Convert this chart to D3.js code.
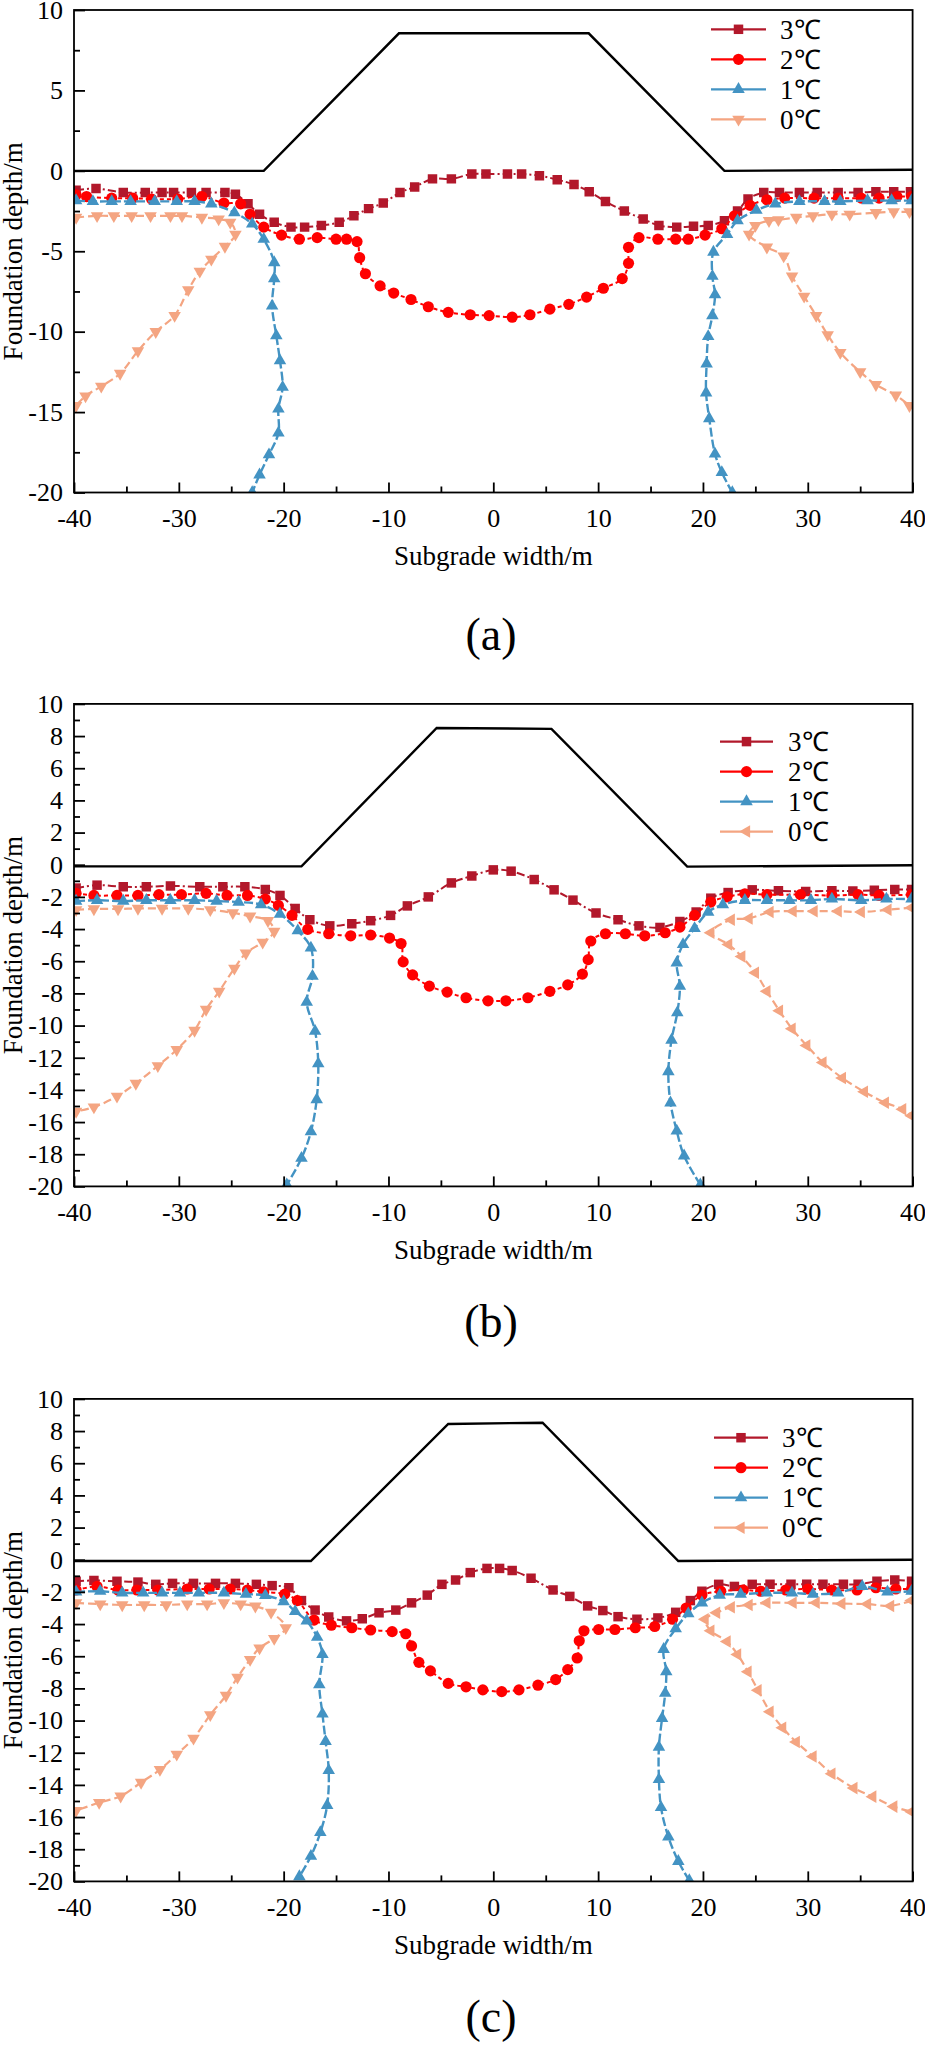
<!DOCTYPE html>
<html>
<head>
<meta charset="utf-8">
<script src="https://cdn.jsdelivr.net/npm/d3@7"></script>
<style>
  body { margin: 0; background: #fff; }
  svg { display: block; }
</style>
</head>
<body>
<div id="container"></div>
<script>
/* CONSTANTS AND DATA */
const width = 925, height = 2046
const FONT = "'Liberation Serif', 'Times New Roman', Tinos, serif"

const legendLabels = ["3℃", "2℃", "1℃", "0℃"]
const xMajor = [-40, -30, -20, -10, 0, 10, 20, 30, 40]
const xMinor = [-35, -25, -15, -5, 5, 15, 25, 35]
const yMajorA = [-20, -15, -10, -5, 0, 5, 10]
const yMinorA = [-17.5, -12.5, -7.5, -2.5, 2.5, 7.5]
const yMajorBC = [-20, -18, -16, -14, -12, -10, -8, -6, -4, -2, 0, 2, 4, 6, 8, 10]
const yMinorBC = [-19, -17, -15, -13, -11, -9, -7, -5, -3, -1, 1, 3, 5, 7, 9]

// embankment outline
const embA = [[-40, 0], [-21.9, 0], [-9.0, 8.55], [9.1, 8.55], [22.05, 0], [40, 0.07]]
const embB = [[-40, -0.1], [-18.3, -0.1], [-5.4, 8.5], [5.55, 8.45], [18.5, -0.12], [40, -0.03]]
const embC = [[-40, -0.08], [-17.4, -0.08], [-4.3, 8.44], [4.7, 8.52], [17.65, -0.08], [40, 0]]

// ---- panel (a)
const t3A = [[-39.8,-1.2],[-37.9,-1.1],[-35.3,-1.35],[-33.2,-1.35],[-31.6,-1.35],[-30.5,-1.35],[-28.8,-1.35],[-27.4,-1.35],[-25.6,-1.35],[-24.6,-1.45],[-23.4,-2.05],[-22.3,-2.7],[-20.9,-3.2],[-19.3,-3.5],[-18.0,-3.5],[-16.4,-3.4],[-14.7,-3.2],[-13.3,-2.8],[-11.9,-2.35],[-10.5,-2.0],[-8.9,-1.35],[-7.5,-1.0],[-5.8,-0.5],[-4.0,-0.5],[-2.05,-0.2],[-0.7,-0.2],[1.35,-0.2],[2.7,-0.2],[4.4,-0.3],[6.1,-0.55],[7.7,-0.85],[9.15,-1.3],[10.7,-1.9],[12.5,-2.5],[14.3,-3.0],[15.8,-3.4],[17.5,-3.5],[19.1,-3.45],[20.5,-3.4],[22.05,-3.1],[23.3,-2.5],[24.3,-1.75],[25.8,-1.35],[27.3,-1.35],[29.2,-1.35],[30.9,-1.35],[32.9,-1.35],[34.8,-1.35],[36.5,-1.3],[38.2,-1.3],[39.8,-1.3]]
const t2A = [[-39.8,-1.5],[-38.8,-1.6],[-36.4,-1.7],[-34.4,-1.7],[-32.6,-1.75],[-30.1,-1.75],[-27.8,-1.6],[-25.7,-2.0],[-24.1,-2.05],[-23.2,-2.7],[-21.9,-3.5],[-20.2,-4.0],[-18.5,-4.25],[-16.8,-4.15],[-15.0,-4.25],[-14.0,-4.25],[-13.0,-4.4],[-12.75,-5.4],[-12.2,-6.4],[-10.8,-7.15],[-9.5,-7.6],[-7.85,-8.0],[-6.2,-8.45],[-4.3,-8.8],[-2.2,-8.95],[-0.4,-9.0],[1.8,-9.1],[3.5,-8.95],[5.4,-8.6],[7.2,-8.3],[8.9,-7.85],[10.5,-7.3],[12.3,-6.7],[12.9,-5.75],[12.9,-4.75],[13.9,-4.15],[15.7,-4.25],[17.4,-4.25],[18.6,-4.25],[20.2,-4.0],[21.8,-3.6],[23.0,-2.8],[24.5,-2.15],[26.1,-1.8],[27.8,-1.7],[30.6,-1.7],[32.9,-1.7],[35.1,-1.7],[36.8,-1.7],[38.5,-1.6],[39.9,-1.6]]
const t1ALeft = [[-39.8,-1.85],[-38.2,-1.9],[-36.4,-1.9],[-34.6,-1.9],[-32.3,-1.9],[-30.2,-1.9],[-28.5,-1.9],[-26.9,-2.05],[-24.7,-2.6],[-23.0,-3.3],[-21.9,-4.25],[-20.9,-5.7],[-20.9,-6.7],[-21.1,-8.4],[-20.7,-10.25],[-20.35,-11.8],[-20.1,-13.45],[-20.5,-14.8],[-20.5,-16.3],[-21.4,-17.65],[-22.3,-18.9],[-23.0,-20.0]]
const t1ARight = [[22.8,-20],[21.8,-18.75],[21.15,-17.6],[20.6,-15.4],[20.3,-13.8],[20.35,-12.0],[20.5,-10.3],[20.9,-9.0],[21.15,-7.7],[20.9,-6.55],[21.0,-5.05],[22.3,-3.95],[23.3,-3.1],[25.1,-2.45],[26.9,-2.05],[29.2,-1.9],[31.6,-1.9],[33.1,-1.9],[35.7,-1.85],[38.0,-1.85],[39.9,-1.85]]
const t0ALeft = [[-39.8,-2.9],[-37.8,-2.8],[-36.2,-2.8],[-34.5,-2.8],[-32.7,-2.8],[-30.8,-2.8],[-29.7,-2.8],[-27.8,-2.9],[-26.2,-3.0],[-25.1,-3.2],[-24.6,-3.95],[-25.6,-4.7],[-26.9,-5.5],[-28.0,-6.25],[-29.1,-7.4],[-30.4,-9.0],[-32.2,-10.0],[-33.9,-11.2],[-35.6,-12.6],[-37.4,-13.4],[-38.9,-14.0],[-39.8,-14.6]]
const t0ARight = [[39.7,-2.55],[38.2,-2.55],[36.5,-2.6],[34.0,-2.7],[32.3,-2.7],[30.5,-2.8],[28.9,-2.9],[27.2,-3.05],[26.3,-3.1],[25.0,-3.4],[24.4,-3.95],[26.1,-4.75],[27.7,-5.3],[28.5,-6.55],[29.65,-7.8],[30.8,-9.0],[31.9,-10.2],[33.1,-11.3],[35.0,-12.5],[36.5,-13.3],[38.4,-13.95],[39.7,-14.6]]

// ---- panel (b)
const t3B = [[-39.8,-1.45],[-37.8,-1.27],[-35.3,-1.37],[-33.1,-1.37],[-30.8,-1.32],[-28.0,-1.37],[-25.8,-1.37],[-23.7,-1.37],[-21.75,-1.54],[-20.35,-1.91],[-18.9,-2.72],[-17.5,-3.42],[-15.6,-3.8],[-13.5,-3.67],[-11.7,-3.48],[-9.8,-3.15],[-8.2,-2.56],[-6.2,-2.0],[-4.0,-1.13],[-2.05,-0.7],[0.0,-0.32],[1.7,-0.4],[3.9,-0.92],[5.8,-1.56],[7.6,-2.2],[9.8,-3.0],[11.9,-3.42],[13.9,-3.8],[15.9,-3.9],[17.8,-3.53],[19.35,-2.94],[20.75,-2.08],[22.4,-1.73],[24.7,-1.56],[27.2,-1.62],[29.8,-1.67],[32.3,-1.62],[34.3,-1.64],[36.35,-1.59],[38.3,-1.54],[39.9,-1.54]]
const t2B = [[-39.8,-1.78],[-38.1,-1.91],[-35.9,-1.91],[-33.9,-1.91],[-31.9,-1.86],[-29.75,-1.86],[-27.4,-1.78],[-25.4,-1.91],[-23.45,-1.91],[-21.75,-2.13],[-20.5,-2.53],[-19.2,-3.15],[-17.7,-4.02],[-15.7,-4.29],[-13.6,-4.42],[-11.7,-4.37],[-9.9,-4.56],[-8.8,-4.9],[-8.6,-6.04],[-7.7,-6.85],[-6.1,-7.55],[-4.4,-7.92],[-2.6,-8.27],[-0.5,-8.46],[1.2,-8.46],[3.3,-8.27],[5.4,-7.87],[7.1,-7.47],[8.5,-6.8],[9.05,-5.9],[9.3,-4.74],[10.7,-4.29],[12.6,-4.29],[14.45,-4.42],[16.4,-4.23],[17.8,-3.88],[19.2,-3.15],[20.75,-2.32],[22.3,-2.0],[24.0,-1.81],[26.1,-1.86],[29.3,-1.86],[32.3,-1.91],[34.8,-1.86],[36.8,-1.91],[39.9,-1.86]]
const t1BLeft = [[-39.8,-2.26],[-37.8,-2.21],[-35.3,-2.26],[-33.1,-2.21],[-30.8,-2.21],[-28.5,-2.21],[-26.4,-2.26],[-24.3,-2.32],[-22.15,-2.48],[-20.35,-3.07],[-18.65,-4.1],[-17.4,-5.17],[-17.25,-6.93],[-17.8,-8.54],[-17.0,-10.35],[-16.7,-12.37],[-16.85,-14.6],[-17.4,-16.6],[-18.3,-18.25],[-19.7,-19.9]]
const t1BRight = [[19.75,-19.9],[18.2,-18.1],[17.5,-16.55],[16.9,-14.8],[16.7,-12.86],[17.0,-10.9],[17.55,-9.2],[17.8,-7.55],[17.5,-6.1],[18.1,-4.96],[19.2,-3.96],[20.5,-2.94],[21.9,-2.48],[24.0,-2.21],[26.1,-2.21],[28.25,-2.21],[30.3,-2.21],[32.3,-2.13],[35.1,-2.21],[37.5,-2.13],[39.9,-2.13]]
const t0BLeft = [[-39.8,-2.8],[-38.1,-2.75],[-35.8,-2.75],[-33.9,-2.72],[-31.6,-2.72],[-29.1,-2.72],[-27.0,-2.8],[-24.85,-2.99],[-23.2,-3.2],[-21.5,-3.48],[-20.9,-4.15],[-22.0,-4.82],[-23.6,-5.5],[-24.7,-6.44],[-26.15,-7.87],[-27.4,-9.0],[-28.5,-10.3],[-30.2,-11.5],[-32.0,-12.5],[-34.1,-13.6],[-35.9,-14.4],[-38.1,-15.07],[-39.8,-15.34]]
const t0BRight = [[39.9,-2.67],[37.65,-2.8],[35.1,-2.94],[32.9,-2.89],[30.6,-2.89],[28.6,-2.89],[26.4,-2.94],[24.4,-3.34],[22.7,-3.42],[20.75,-4.23],[22.45,-4.96],[23.7,-5.71],[25.0,-6.71],[26.1,-7.87],[27.3,-9.08],[28.5,-10.2],[29.9,-11.24],[31.45,-12.3],[33.3,-13.26],[35.4,-14.12],[37.4,-14.8],[39.05,-15.2],[39.9,-15.6]]

// ---- panel (c)
const t3C = [[-39.8,-1.34],[-38.1,-1.29],[-35.9,-1.34],[-33.9,-1.39],[-32.2,-1.53],[-30.6,-1.47],[-28.6,-1.47],[-26.5,-1.47],[-24.6,-1.47],[-22.6,-1.53],[-21.1,-1.61],[-19.5,-1.74],[-18.3,-2.54],[-17.0,-3.13],[-15.7,-3.56],[-14.0,-3.8],[-12.5,-3.67],[-10.9,-3.3],[-9.3,-3.13],[-7.8,-2.68],[-6.3,-2.2],[-4.9,-1.53],[-3.6,-1.26],[-2.2,-0.8],[-0.6,-0.54],[0.6,-0.54],[1.8,-0.67],[3.6,-1.15],[5.7,-1.88],[7.3,-2.28],[9.0,-2.87],[10.45,-3.16],[11.9,-3.54],[13.7,-3.7],[15.7,-3.62],[17.4,-3.27],[18.8,-2.54],[19.9,-1.96],[21.5,-1.53],[23.0,-1.66],[24.7,-1.53],[26.4,-1.53],[28.4,-1.53],[29.9,-1.53],[31.45,-1.53],[33.4,-1.53],[34.8,-1.53],[36.6,-1.34],[38.3,-1.26],[39.9,-1.34]]
const t2C = [[-39.8,-1.88],[-37.8,-1.66],[-35.8,-1.88],[-34.0,-1.88],[-32.0,-1.88],[-29.2,-1.82],[-27.1,-1.82],[-25.1,-1.82],[-23.45,-1.88],[-21.9,-2.0],[-19.9,-2.14],[-18.7,-2.54],[-17.1,-3.75],[-15.45,-4.07],[-13.5,-4.23],[-11.7,-4.37],[-9.65,-4.47],[-8.35,-4.6],[-7.8,-5.36],[-7.1,-6.38],[-6.0,-6.91],[-4.3,-7.69],[-2.6,-7.9],[-1.0,-8.09],[0.8,-8.2],[2.45,-8.09],[4.26,-7.8],[5.95,-7.45],[7.1,-6.83],[8.0,-6.11],[8.2,-5.04],[8.65,-4.42],[10.05,-4.34],[11.6,-4.34],[13.55,-4.23],[15.4,-4.15],[17.1,-3.7],[18.4,-3.0],[19.9,-2.2],[21.7,-1.96],[23.85,-1.88],[25.5,-1.96],[27.9,-1.88],[30.0,-1.82],[32.3,-1.88],[34.7,-1.88],[36.5,-1.74],[38.4,-1.82],[39.9,-1.82]]
const t1CLeft = [[-39.8,-2.0],[-37.5,-1.96],[-35.4,-2.06],[-33.4,-2.06],[-31.6,-2.06],[-29.9,-2.06],[-28.1,-2.06],[-25.7,-2.06],[-23.6,-2.14],[-21.75,-2.22],[-20.0,-2.6],[-18.9,-3.21],[-17.8,-3.8],[-16.8,-4.82],[-16.3,-5.89],[-16.6,-7.77],[-16.3,-9.59],[-16.0,-11.3],[-15.7,-13.1],[-15.85,-15.27],[-16.5,-16.96],[-17.4,-18.43],[-18.5,-19.7]]
const t1CRight = [[18.7,-19.95],[17.65,-18.75],[16.7,-17.23],[16.0,-15.4],[15.8,-13.66],[15.8,-11.65],[16.1,-9.86],[16.4,-8.3],[16.5,-6.96],[16.25,-5.57],[17.4,-4.29],[18.6,-3.35],[19.9,-2.68],[21.6,-2.2],[23.6,-2.14],[26.1,-2.06],[28.5,-2.06],[30.5,-2.14],[32.9,-2.06],[35.2,-1.66],[37.6,-2.0],[39.9,-1.96]]
const t0CLeft = [[-39.8,-2.68],[-37.5,-2.76],[-35.4,-2.81],[-33.3,-2.81],[-31.2,-2.81],[-29.2,-2.76],[-27.3,-2.76],[-25.7,-2.68],[-24.1,-2.76],[-22.7,-2.89],[-21.2,-3.27],[-19.8,-4.23],[-20.9,-4.9],[-22.3,-5.49],[-23.2,-6.21],[-24.4,-7.31],[-25.5,-8.44],[-27.0,-9.64],[-28.6,-11.1],[-30.2,-12.1],[-31.8,-13.05],[-33.6,-13.85],[-35.55,-14.7],[-37.6,-15.1],[-39.8,-15.6]]
const t0CRight = [[39.9,-2.54],[37.9,-2.87],[35.7,-2.76],[33.25,-2.73],[30.8,-2.68],[28.6,-2.68],[26.1,-2.68],[24.4,-2.81],[22.7,-2.95],[21.3,-3.3],[20.2,-3.7],[20.75,-4.42],[22.3,-5.09],[23.3,-5.89],[24.3,-6.96],[25.25,-8.11],[26.4,-9.45],[27.6,-10.45],[28.9,-11.33],[30.5,-12.24],[32.3,-13.31],[34.4,-14.2],[36.2,-14.73],[38.2,-15.35],[39.9,-15.67]]

/* STYLES */
const colors = ["#B2182B", "#FF0000", "#4393C3", "#F4A582"]
const dashes = ["8,3,2,3", "4,3", "9,3", "8,4"]
const widths = [2, 2, 2.4, 2.2]

const plotLeft = 74, plotRight = 912.6, plotH = 482.5

const panels = [
  { top: 10, label: "(a)", labelY: 650, emb: embA,
    series: [[t3A], [t2A], [t1ALeft, t1ARight], [t0ALeft, t0ARight]],
    marks: [["square"], ["circle"], ["up", "up"], ["down", "down"]],
    legendMarks: ["square", "circle", "up", "down"],
    yMajor: yMajorA, yMinor: yMinorA,
    legend: { y0: 19.3, x1: 711, x2: 766, tx: 780 } },
  { top: 703.9, label: "(b)", labelY: 1337, emb: embB,
    series: [[t3B], [t2B], [t1BLeft, t1BRight], [t0BLeft, t0BRight]],
    marks: [["square"], ["circle"], ["up", "up"], ["down", "left"]],
    legendMarks: ["square", "circle", "up", "left"],
    yMajor: yMajorBC, yMinor: yMinorBC,
    legend: { y0: 37.7, x1: 720, x2: 773, tx: 788 } },
  { top: 1398.9, label: "(c)", labelY: 2032, emb: embC,
    series: [[t3C], [t2C], [t1CLeft, t1CRight], [t0CLeft, t0CRight]],
    marks: [["square"], ["circle"], ["up", "up"], ["down", "left"]],
    legendMarks: ["square", "circle", "up", "left"],
    yMajor: yMajorBC, yMinor: yMinorBC,
    legend: { y0: 38.8, x1: 714, x2: 768, tx: 782 } }
]

const symbols = {
  square: [d3.symbolSquare, 90, 0],
  circle: [d3.symbolCircle, 98, 0],
  up: [d3.symbolTriangle, 68, 0],
  down: [d3.symbolTriangle, 68, 180],
  left: [d3.symbolTriangle, 68, -90]
}

const svg = d3.select("#container")
  .append("svg")
  .attr("width", width)
  .attr("height", height)
  .style("background", "#fff")

const x = d3.scaleLinear().domain([-40, 40]).range([plotLeft, plotRight])

function drawMarks(g, pts, type, color, xs, ys) {
  const [s, size, rot] = symbols[type]
  g.selectAll(null)
    .data(pts)
    .join("path")
    .attr("d", d3.symbol(s, size))
    .attr("transform", d => `translate(${xs(d[0])},${ys(d[1])}) rotate(${rot})`)
    .attr("fill", color)
}

panels.forEach((p, pi) => {
  const y = d3.scaleLinear().domain([-20, 10]).range([p.top + plotH, p.top])
  const g = svg.append("g")

  const clipId = "clip" + pi
  svg.append("clipPath").attr("id", clipId)
    .append("rect")
    .attr("x", plotLeft).attr("y", p.top)
    .attr("width", plotRight - plotLeft).attr("height", plotH)

  const line = d3.line()
    .x(d => x(d[0]))
    .y(d => y(d[1]))
    .curve(d3.curveCatmullRom.alpha(0.5))

  const inner = g.append("g").attr("clip-path", `url(#${clipId})`)

  // embankment
  inner.append("path")
    .attr("d", d3.line().x(d => x(d[0])).y(d => y(d[1]))(p.emb))
    .attr("fill", "none")
    .attr("stroke", "#000")
    .attr("stroke-width", 2.4)

  // contour lines then markers
  p.series.forEach((pieces, si) => {
    pieces.forEach((pts, k) => {
      inner.append("path")
        .attr("d", line(pts))
        .attr("fill", "none")
        .attr("stroke", colors[si])
        .attr("stroke-width", widths[si])
        .attr("stroke-dasharray", dashes[si])
      drawMarks(inner.append("g"), pts, p.marks[si][k], colors[si], x, y)
    })
  })

  // axes
  g.append("g")
    .attr("transform", `translate(0,${p.top + plotH})`)
    .call(d3.axisBottom(x).tickValues(xMajor).tickSize(-10).tickSizeOuter(0)
      .tickPadding(16).tickFormat(d => String(d)))
  g.append("g")
    .attr("transform", `translate(0,${p.top + plotH})`)
    .call(d3.axisBottom(x).tickValues(xMinor).tickSize(-6).tickSizeOuter(0).tickFormat(""))
  g.append("g")
    .attr("transform", `translate(${plotLeft},0)`)
    .call(d3.axisLeft(y).tickValues(p.yMajor).tickSize(-11).tickSizeOuter(0)
      .tickPadding(11).tickFormat(d => String(d)))
  g.append("g")
    .attr("transform", `translate(${plotLeft},0)`)
    .call(d3.axisLeft(y).tickValues(p.yMinor).tickSize(-6).tickSizeOuter(0).tickFormat(""))

  g.selectAll(".domain").remove()
  g.selectAll(".tick line").attr("stroke", "#000").attr("stroke-width", 1.8)
  g.selectAll(".tick text")
    .style("font-size", "26px")
    .attr("fill", "#000")

  // frame
  g.append("rect")
    .attr("x", plotLeft).attr("y", p.top)
    .attr("width", plotRight - plotLeft).attr("height", plotH)
    .attr("fill", "none")
    .attr("stroke", "#000")
    .attr("stroke-width", 1.8)

  // titles
  g.append("text")
    .attr("x", (plotLeft + plotRight) / 2)
    .attr("y", p.top + 555)
    .attr("text-anchor", "middle")
    .style("font-size", "27px")
    .text("Subgrade width/m")

  g.append("text")
    .attr("transform", `translate(22,${p.top + plotH / 2}) rotate(-90)`)
    .attr("text-anchor", "middle")
    .style("font-size", "27px")
    .text("Foundation depth/m")

  g.append("text")
    .attr("x", 491)
    .attr("y", p.labelY)
    .attr("text-anchor", "middle")
    .style("font-size", "46px")
    .text(p.label)

  // legend
  const lg = g.append("g")
  legendLabels.forEach((lab, i) => {
    const ly = p.top + p.legend.y0 + i * 30
    lg.append("line")
      .attr("x1", p.legend.x1).attr("x2", p.legend.x2)
      .attr("y1", ly).attr("y2", ly)
      .attr("stroke", colors[i])
      .attr("stroke-width", 2.2)
    drawMarks(lg.append("g"), [[0, 0]], p.legendMarks[i], colors[i],
      () => (p.legend.x1 + p.legend.x2) / 2, () => ly)
    lg.append("text")
      .attr("x", p.legend.tx)
      .attr("y", ly)
      .attr("dy", "0.35em")
      .style("font-size", "27px")
      .text(lab)
  })
})

// all text in the serif face, set inline so the axis defaults don't win
svg.selectAll("text")
  .style("font-family", FONT)
  .attr("fill", "#000")
</script>
</body>
</html>
